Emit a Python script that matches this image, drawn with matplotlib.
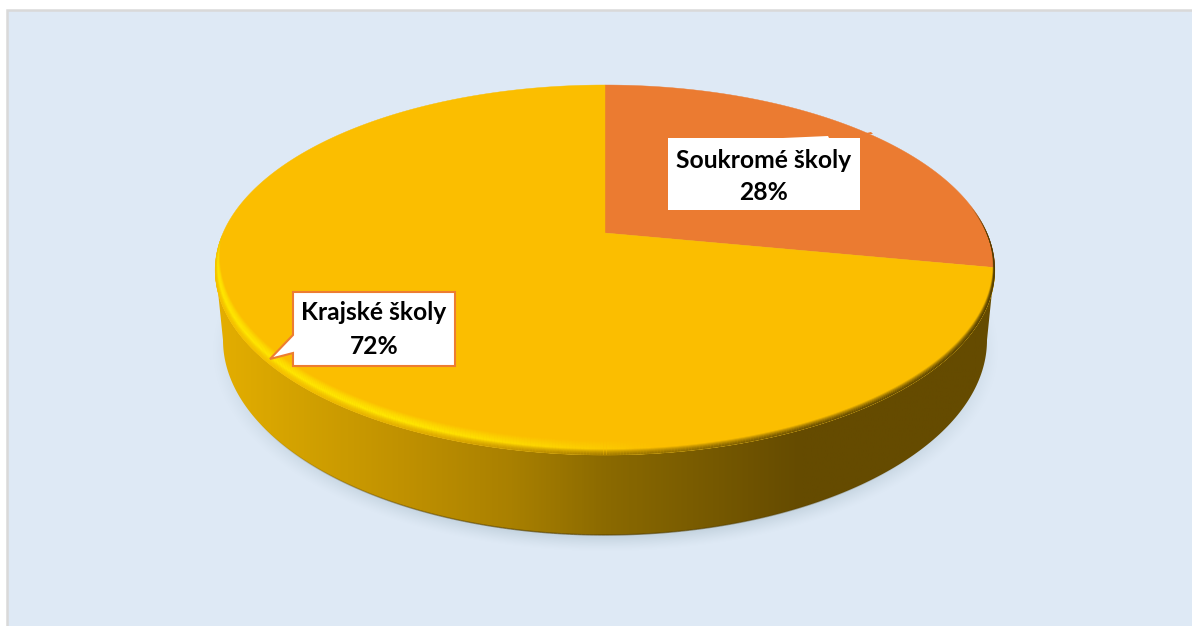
import numpy as np
import matplotlib
matplotlib.use("Agg")
import matplotlib.pyplot as plt
import matplotlib.colors as mcolors
from matplotlib.collections import LineCollection
from matplotlib.patches import Polygon, Rectangle

plt.rcParams["font.family"] = ["Lato", "DejaVu Sans"]

# Data
categories = ["Soukromé školy", "Krajské školy"]
shares = [28, 72]
slice_colors = ["#EB7B31", "#FBBE00"]

W, H = 1192, 626
fig = plt.figure(figsize=(W / 100, H / 100), dpi=100, facecolor="white")
ax = fig.add_axes([0, 0, 1, 1])
ax.set_xlim(0, W)
ax.set_ylim(H, 0)
ax.axis("off")

# background panel
ax.add_patch(Rectangle((7, 10), W, H, facecolor="#DEE9F5", edgecolor="#D9D9D9", lw=1.8, zorder=0))


# perspective of the pie's top face, t is clockwise from 12 o'clock
def project(t):
    u, v = np.sin(t), -np.cos(t)
    w = 1 - 0.2 * v
    return 605 + 382 * u / w, (131 * v + 233) / w


def bottom_edge(t):
    return 605 + 382 * np.sin(t), 340 - 195 * np.cos(t)


# soft shadow under the disc
yy, xx = np.mgrid[0:H, 0:W]
d = np.sqrt(((xx - 605) / 393) ** 2 + ((yy - 350) / 201) ** 2)
rgba = np.zeros((H, W, 4))
rgba[..., :3] = mcolors.to_rgb("#B9CAD6")
rgba[..., 3] = np.clip((1 - d) / 0.085, 0, 1) ** 1.3 * 0.8
ax.imshow(rgba, extent=(0, W, H, 0), aspect="auto", zorder=1, interpolation="bilinear")

# side wall with horizontal gradient
t_top = np.radians(np.linspace(100, 260, 200))
t_bot = np.radians(np.linspace(270, 90, 200))
side_xy = np.column_stack(
    [np.r_[project(t_top)[0], bottom_edge(t_bot)[0]], np.r_[project(t_top)[1], bottom_edge(t_bot)[1]]]
)
side = Polygon(side_xy, closed=True, facecolor="none", edgecolor="none", zorder=2)
ax.add_patch(side)
side_cmap = mcolors.LinearSegmentedColormap.from_list(
    "side",
    [
        (0.0, "#E4AE00"),
        (0.11, "#D2A100"),
        (0.24, "#C09100"),
        (0.38, "#A98000"),
        (0.5, "#8B6A00"),
        (0.75, "#654B00"),
        (1.0, "#654B00"),
    ],
)
grad = ax.imshow(
    np.linspace(0, 1, 400).reshape(1, -1),
    extent=(215, 996, 540, 200),
    cmap=side_cmap,
    aspect="auto",
    zorder=2,
)
grad.set_clip_path(side)
ax.set_xlim(0, W)
ax.set_ylim(H, 0)

# thin dark line at the lower edge of the wall, fading out to both ends
t_low = np.radians(np.linspace(125, 245, 200))
low = np.column_stack(bottom_edge(t_low))
low_cols = np.tile(np.r_[mcolors.to_rgb("#4F3B00"), 0.0], (199, 1))
low_cols[:, 3] = 0.6 * np.sin(np.linspace(0, np.pi, 199))
ax.add_collection(LineCollection(np.stack([low[:-1], low[1:]], axis=1), colors=low_cols, linewidths=1.0, zorder=3))

# top face slices
apex = (605, 233)
start = 0
for share, col in zip(shares, slice_colors):
    end = start + share / sum(shares) * 2 * np.pi
    t = np.linspace(start, end, 300)
    px, py = project(t)
    ax.fill(np.r_[apex[0], px], np.r_[apex[1], py], color=col, lw=0.3, zorder=4)
    start = end

face = Polygon(np.column_stack(project(np.linspace(0, 2 * np.pi, 600))), closed=True, facecolor="none", edgecolor="none")
ax.add_patch(face)

# bevel, drawn as rings stepping up from the rim
edge_cm = mcolors.LinearSegmentedColormap.from_list("edge", ["#4F3B00", "#654B00", "#9C7600", "#D8A400", "#F5C000"])
t_rim = np.radians(np.linspace(60, 300, 700))
base_x, base_y = project(t_rim)
glow_rgb = mcolors.to_rgb("#FFE600")
for inset in np.arange(16, -0.5, -1.0):
    rx = 605 + (base_x - 605) * (1 - 0.3 * inset / 390)
    ry = base_y - inset
    pts = np.column_stack([rx, ry])
    segs = np.stack([pts[:-1], pts[1:]], axis=1)
    frac = np.clip((980 - rx[:-1]) / 700, 0, 1)
    back = np.where(rx[:-1] > 605, np.clip((ry[:-1] - 205) / 30, 0, 1), np.clip((ry[:-1] - 235) / 40, 0, 1))
    # yellow glow in the middle of the bevel, only on the lit side
    glow = np.tile(np.r_[glow_rgb, 0.0], (len(segs), 1))
    glow[:, 3] = max(0, 1 - abs(inset - 7) / 8) * np.clip((660 - rx[:-1]) / 260, 0, 1) * back
    ax.add_collection(LineCollection(segs, colors=glow, linewidths=1.1, zorder=5)).set_clip_path(face)
    # darker outer edge
    if inset < 6:
        dark = edge_cm(frac)
        dark[:, 3] = (1 - inset / 6) * back
        ax.add_collection(LineCollection(segs, colors=dark, linewidths=1.1, zorder=5)).set_clip_path(face)

# label boxes
ax.add_patch(Rectangle((668, 138), 192, 72, facecolor="white", edgecolor="none", zorder=6))
ax.add_patch(Polygon([(783, 138), (828, 136), (829, 138)], closed=True, facecolor="white", edgecolor="none", zorder=6))
ax.add_patch(Polygon([(862, 134), (871, 132), (873, 134)], closed=True, facecolor="#EB7B31", edgecolor="none", zorder=6))
ax.text(764, 160, categories[0], fontsize=17.7, fontweight="bold", color="black", ha="center", va="center", zorder=7)
ax.text(764, 193, f"{shares[0]}%", fontsize=17.7, fontweight="bold", color="black", ha="center", va="center", zorder=7)

callout = Polygon(
    [(293, 292), (455, 292), (455, 366), (293, 366), (293, 353), (270, 359), (293, 335)],
    closed=True,
    facecolor="white",
    edgecolor="#ED7D31",
    lw=1.5,
    joinstyle="miter",
    zorder=6,
)
ax.add_patch(callout)
ax.text(374, 313, categories[1], fontsize=17.7, fontweight="bold", color="black", ha="center", va="center", zorder=7)
ax.text(374, 346, f"{shares[1]}%", fontsize=17.7, fontweight="bold", color="black", ha="center", va="center", zorder=7)

fig.savefig("out.png", dpi=100, facecolor="white")
